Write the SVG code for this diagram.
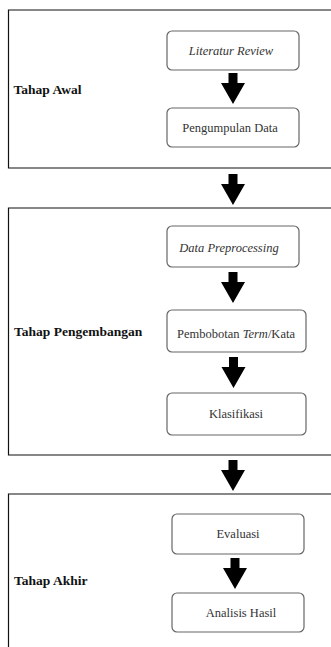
<svg xmlns="http://www.w3.org/2000/svg" width="331" height="647" viewBox="0 0 331 647">
<style>
.stage{fill:none;stroke:#111;stroke-width:1.2}
.node{fill:#fff;stroke:#666;stroke-width:1.2}
.t{font-family:"Liberation Serif","Times New Roman",serif;font-size:12.5px;fill:#333;text-anchor:middle}
.lbl{font-family:"Liberation Serif","Times New Roman",serif;font-size:13.5px;font-weight:bold;fill:#111}
.arr{fill:#000}
</style>
<defs>
<path id="ar" d="M-4.5,0 h9 v10 h7.5 l-12,21 l-12,-21 h7.5 z"/>
</defs>
<rect width="331" height="647" fill="#fff"/>
<g id="stage-awal">
<path class="stage" d="M331,10 H8.5 V168 H331"/>
<text class="lbl" x="13.5" y="94">Tahap Awal</text>
</g>
<g id="stage-pengembangan">
<path class="stage" d="M331,208 H8.5 V455 H331"/>
<text class="lbl" x="14" y="336">Tahap Pengembangan</text>
</g>
<g id="stage-akhir">
<path class="stage" d="M331,494 H8.5 V647"/>
<text class="lbl" x="14" y="585">Tahap Akhir</text>
</g>
<g id="n-literatur">
<rect class="node" x="167" y="31" width="132" height="39" rx="5"/>
<text class="t" x="231" y="54.5" font-style="italic">Literatur Review</text>
</g>
<g id="n-pengumpulan">
<rect class="node" x="167" y="108" width="132" height="39" rx="5"/>
<text class="t" x="230" y="131.5">Pengumpulan Data</text>
</g>
<g id="n-preprocessing">
<rect class="node" x="167" y="226" width="132" height="41" rx="5"/>
<text class="t" x="229" y="251.5" font-style="italic">Data Preprocessing</text>
</g>
<g id="n-pembobotan">
<rect class="node" x="167" y="310" width="139" height="42" rx="5"/>
<text class="t" x="236" y="338">Pembobotan <tspan font-style="italic">Term</tspan>/Kata</text>
</g>
<g id="n-klasifikasi">
<rect class="node" x="167" y="393" width="139" height="42" rx="5"/>
<text class="t" x="236" y="418">Klasifikasi</text>
</g>
<g id="n-evaluasi">
<rect class="node" x="172" y="514" width="132" height="40" rx="5"/>
<text class="t" x="238" y="538">Evaluasi</text>
</g>
<g id="n-analisis">
<rect class="node" x="172" y="593" width="132" height="39" rx="5"/>
<text class="t" x="241" y="617">Analisis Hasil</text>
</g>
<g id="connectors" class="arr">
<use href="#ar" x="233" y="73"/>
<use href="#ar" x="233" y="174"/>
<use href="#ar" x="233" y="272"/>
<use href="#ar" x="233.5" y="357"/>
<use href="#ar" x="233" y="460"/>
<use href="#ar" x="235" y="558"/>
</g>
</svg>
